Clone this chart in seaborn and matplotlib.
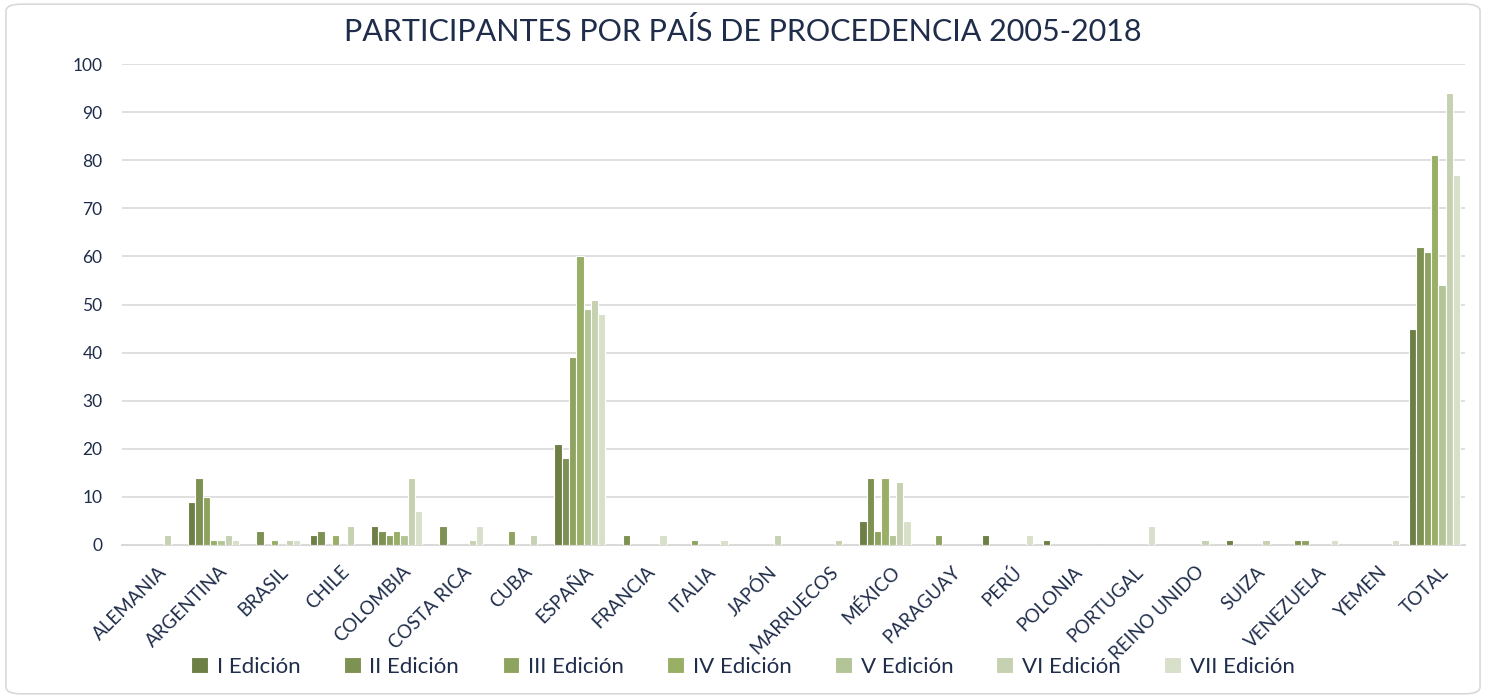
import pandas as pd
import numpy as np
import matplotlib.pyplot as plt
import matplotlib.transforms as mtransforms
from matplotlib.patches import FancyBboxPatch
import seaborn as sns

# Data
paises = ["ALEMANIA", "ARGENTINA", "BRASIL", "CHILE", "COLOMBIA", "COSTA RICA",
          "CUBA", "ESPAÑA", "FRANCIA", "ITALIA", "JAPÓN", "MARRUECOS", "MÉXICO",
          "PARAGUAY", "PERÚ", "POLONIA", "PORTUGAL", "REINO UNIDO", "SUIZA",
          "VENEZUELA", "YEMEN", "TOTAL"]
ediciones = ["I Edición", "II Edición", "III Edición", "IV Edición",
             "V Edición", "VI Edición", "VII Edición"]

ed_1 = [0, 9, 0, 2, 4, 0, 0, 21, 0, 0, 0, 0, 5, 0, 2, 1, 0, 0, 1, 0, 0, 45]
ed_2 = [0, 14, 3, 3, 3, 4, 0, 18, 2, 0, 0, 0, 14, 0, 0, 0, 0, 0, 0, 1, 0, 62]
ed_3 = [0, 10, 0, 0, 2, 0, 3, 39, 0, 1, 0, 0, 3, 2, 0, 0, 0, 0, 0, 1, 0, 61]
ed_4 = [0, 1, 1, 2, 3, 0, 0, 60, 0, 0, 0, 0, 14, 0, 0, 0, 0, 0, 0, 0, 0, 81]
ed_5 = [0, 1, 0, 0, 2, 0, 0, 49, 0, 0, 0, 0, 2, 0, 0, 0, 0, 0, 0, 0, 0, 54]
ed_6 = [2, 2, 1, 4, 14, 1, 2, 51, 0, 0, 2, 1, 13, 0, 0, 0, 0, 1, 1, 0, 0, 94]
ed_7 = [0, 1, 1, 0, 7, 4, 0, 48, 2, 1, 0, 0, 5, 0, 2, 0, 4, 0, 0, 1, 1, 77]

colores = ["#71893b", "#819c48", "#93ae55", "#9dbb59", "#b5cc8f", "#c7d7aa", "#d9e4c5"]

series = [ed_1, ed_2, ed_3, ed_4, ed_5, ed_6, ed_7]
df = pd.DataFrame({
    "pais": paises * len(ediciones),
    "edicion": np.repeat(ediciones, len(paises)),
    "valor": np.concatenate(series),
})

sns.set_style("white")
plt.rcParams["font.family"] = ["Lato", "DejaVu Sans"]
texto = "#1f2d4a"

fig = plt.figure(figsize=(14.86, 6.98), dpi=100)
ax = fig.add_axes([0.0821, 0.2192, 0.9038, 0.6891])

sns.barplot(data=df, x="pais", y="valor", hue="edicion", hue_order=ediciones,
            palette=colores, width=0.84, edgecolor="white", linewidth=0.8,
            ax=ax, zorder=3)

ax.set_ylim(0, 100)
ax.set_xlim(-0.5, len(paises) - 0.5)
ax.set_yticks(range(0, 101, 10))
ax.yaxis.grid(True, color="#d9d9d9", linewidth=1.2, zorder=0)
ax.set_xlabel("")
ax.set_ylabel("")
for s in ["left", "right", "top"]:
    ax.spines[s].set_visible(False)
ax.spines["bottom"].set_color("#d9d9d9")
ax.spines["bottom"].set_linewidth(1.5)
ax.tick_params(axis="both", length=0, colors=texto, labelsize=12.5)
ax.tick_params(axis="x", labelsize=13.5)
ax.tick_params(axis="y", pad=14)

offset = mtransforms.ScaledTranslation(5 / 100, -13 / 100, fig.dpi_scale_trans)
for lab in ax.get_xticklabels():
    lab.set_rotation(45)
    lab.set_ha("right")
    lab.set_rotation_mode("anchor")
    lab.set_transform(lab.get_transform() + offset)

fig.suptitle("PARTICIPANTES POR PAÍS DE PROCEDENCIA 2005-2018", x=0.5, y=0.975,
             fontsize=22, color=texto)

ax.legend_.remove()
handles, labels = ax.get_legend_handles_labels()
fig.legend(handles[:7], labels[:7], loc="center", bbox_to_anchor=(0.5, 0.045),
           ncol=7, frameon=False, fontsize=16, handlelength=0.75,
           handleheight=0.75, handletextpad=0.4, columnspacing=1.95,
           labelcolor=texto)

fig.patches.append(FancyBboxPatch((0.004, 0.006), 0.992, 0.988,
                                  boxstyle="round,pad=0,rounding_size=0.01",
                                  transform=fig.transFigure, fill=False,
                                  edgecolor="#d9d9d9", linewidth=1.2))

plt.savefig("out.png", dpi=100)
